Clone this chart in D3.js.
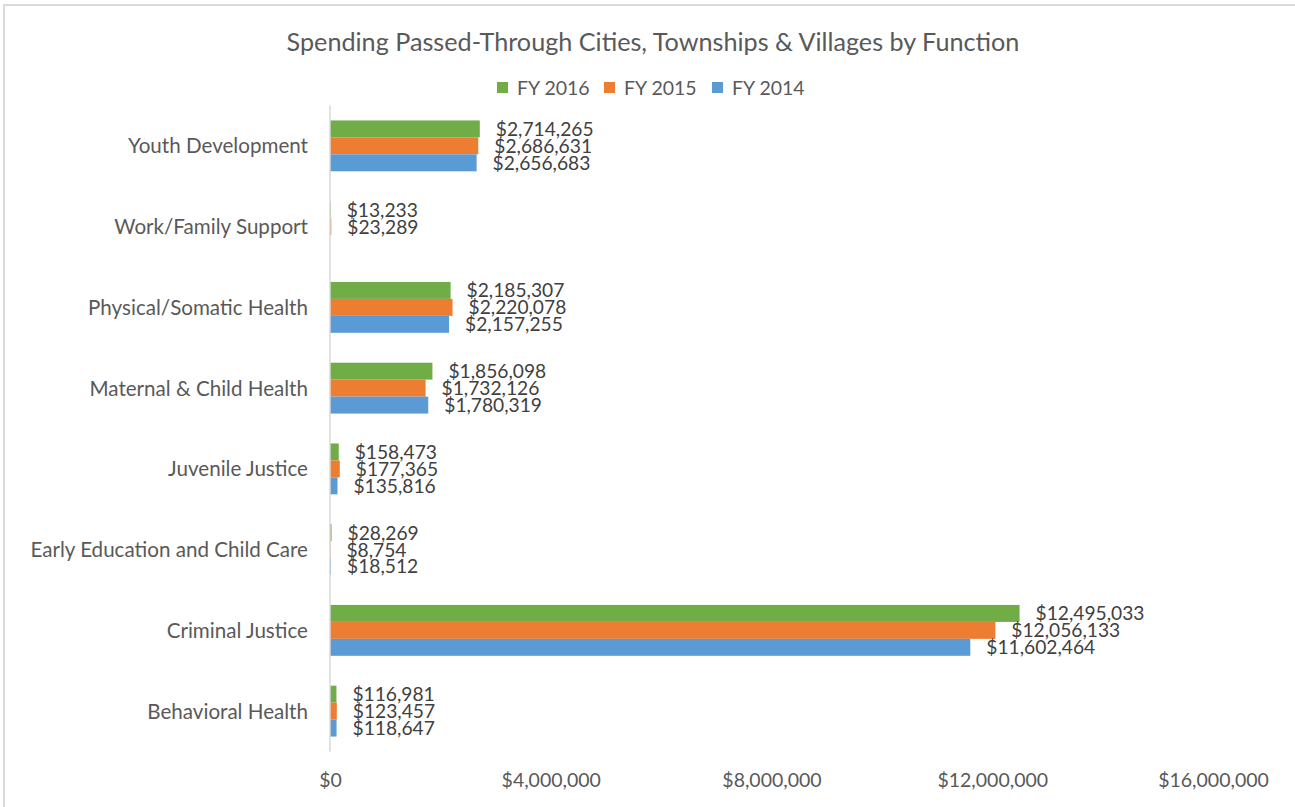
<!DOCTYPE html>
<html>
<head>
<meta charset="utf-8">
<script src="https://cdn.jsdelivr.net/npm/d3@7"></script>
<style>
	body { margin: 0; background: #fff; }
	svg { display: block; font-family: Lato, "Open Sans", sans-serif; }
</style>
</head>
<body>
<div id="chart"></div>
<script>
"use strict";

const width = 1295, height = 807;

//  Data (top of chart first)
const categories = ['Youth Development', 'Work/Family Support', 'Physical/Somatic Health', 'Maternal & Child Health',
	'Juvenile Justice', 'Early Education and Child Care', 'Criminal Justice', 'Behavioral Health'];
const seriesNames = ['FY 2016', 'FY 2015', 'FY 2014'];
const seriesColors = ['#70ad47', '#ed7d31', '#5b9bd5'];
const fy2016 = [2714265, 13233, 2185307, 1856098, 158473, 28269, 12495033, 116981];
const fy2015 = [2686631, 23289, 2220078, 1732126, 177365, 8754, 12056133, 123457];
const fy2014 = [2656683, null, 2157255, 1780319, 135816, 18512, 11602464, 118647];
const tickValues = [0, 4000000, 8000000, 12000000, 16000000];

const seriesValues = [fy2016, fy2015, fy2014];

const margin = { left: 330, right: 82, top: 105.5, bottom: 55.5 };

let svg = d3.select('#chart').append('svg')
	.attr('width', width)
	.attr('height', height);

//  Outer frame
svg.append('rect')
	.attr('x', 4).attr('y', 5)
	.attr('width', width + 20).attr('height', height + 20)
	.attr('fill', 'none')
	.attr('stroke', '#d9d9d9')
	.attr('stroke-width', 2);

//  Title
svg.append('text')
	.attr('x', 653).attr('y', 51)
	.attr('text-anchor', 'middle')
	.style('font-size', '25.2px')
	.style('fill', '#595959')
	.text('Spending Passed-Through Cities, Townships & Villages by Function');

//  Legend
const legendX = [503, 610, 718];
let legend = svg.selectAll('.legend')
	.data(seriesNames)
	.join('g')
	.classed('legend', true)
	.attr('transform', (d, i) => `translate(${legendX[i]}, 88)`);
legend.append('rect')
	.attr('x', -6).attr('y', -6)
	.attr('width', 11).attr('height', 11)
	.attr('fill', (d, i) => seriesColors[i]);
legend.append('text')
	.attr('x', 14).attr('y', 7)
	.style('font-size', '19.5px')
	.style('fill', '#595959')
	.text(d => d);

//  Scales
const x = d3.scaleLinear()
	.domain([0, 16000000])
	.range([margin.left, width - margin.right]);

const y = d3.scaleBand()
	.domain(categories)
	.range([margin.top, height - margin.bottom])
	.paddingInner(0.37)
	.paddingOuter(0.185);

const ySeries = d3.scaleBand()
	.domain(seriesNames)
	.range([0, y.bandwidth()]);

//  Bars
let groups = svg.selectAll('.group')
	.data(categories)
	.join('g')
	.classed('group', true)
	.attr('transform', c => `translate(0, ${y(c)})`);

const rows = (c, ci) => seriesNames.map((s, si) => ({ series: s, si: si, value: seriesValues[si][ci] }))
	.filter(d => d.value !== null);

groups.selectAll('rect')
	.data(rows)
	.join('rect')
	.attr('x', x(0))
	.attr('y', d => ySeries(d.series))
	.attr('width', d => x(d.value) - x(0))
	.attr('height', ySeries.bandwidth())
	.attr('fill', d => seriesColors[d.si]);

groups.selectAll('.label')
	.data(rows)
	.join('text')
	.classed('label', true)
	.attr('x', d => x(d.value) + 16)
	.attr('y', d => ySeries(d.series) + ySeries.bandwidth() / 2)
	.attr('dy', '0.36em')
	.style('font-size', '19.2px')
	.style('fill', '#404040')
	.text(d => d3.format('$,')(d.value));

//  Category labels
svg.selectAll('.cat')
	.data(categories)
	.join('text')
	.classed('cat', true)
	.attr('x', 308)
	.attr('y', c => y(c) + y.bandwidth() / 2)
	.attr('dy', '0.36em')
	.attr('text-anchor', 'end')
	.style('font-size', '20.6px')
	.style('fill', '#595959')
	.text(c => c);

//  Axes
svg.append('line')
	.attr('x1', x(0)).attr('x2', x(0))
	.attr('y1', margin.top).attr('y2', height - margin.bottom)
	.attr('stroke', '#d9d9d9')
	.attr('stroke-width', 1.5);

let xAxis = svg.append('g')
	.attr('transform', `translate(0, 780)`)
	.call(d3.axisBottom(x).tickValues(tickValues).tickFormat(d3.format('$,')).tickSize(0).tickPadding(0));
xAxis.select('.domain').remove();
xAxis.selectAll('text')
	.attr('dy', '0.36em')
	.style('font-family', 'Lato, "Open Sans", sans-serif')
	.style('font-size', '19.5px')
	.style('fill', '#595959');
</script>
</body>
</html>
